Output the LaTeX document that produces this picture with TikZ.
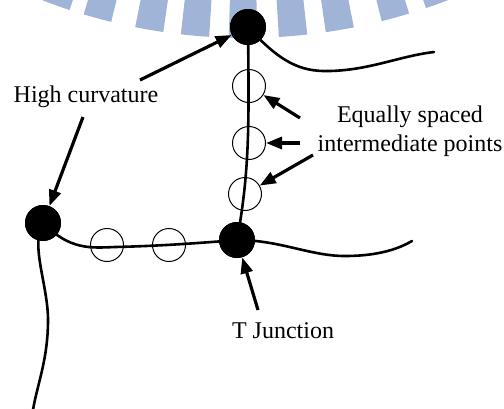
\documentclass[tikz,border=0pt]{standalone}
\usepackage{fontspec}
\setmainfont{Liberation Serif}
\usetikzlibrary{arrows.meta}
\definecolor{wmblue}{RGB}{160,180,216}
\tikzset{
  dot/.style={circle,fill=black,minimum size=36pt,inner sep=0pt},
  ring/.style={circle,draw=black,line width=1pt,minimum size=33pt,inner sep=0pt},
  curve/.style={line width=2.6pt,line cap=round},
  arr/.style={line width=3.2pt,-{Triangle[length=16pt,width=12pt]}},
  lbl/.style={font=\fontsize{24}{29}\selectfont,inner sep=0pt,align=center},
  wmbar/.style={fill=wmblue,draw=none}
}
\begin{document}
\begin{tikzpicture}[x=1pt,y=-1pt]
\useasboundingbox (0,0) rectangle (504,408);
% watermark bars (ring centre above the picture)
\begin{scope}
\clip (0,0) rectangle (504,408);
\begin{scope}[shift={(245,-525)}]
\foreach \a in {109.6,105.2,99.8,95.1,90.2,85.1,80.3,74.5,69.8}{
  \fill[wmbar] (\a-1.45:450) -- (\a-1.45:563) arc[start angle=\a-1.45,end angle=\a+1.45,radius=563] -- (\a+1.45:450) -- cycle;
}
\end{scope}
\end{scope}
% named points
\node[dot] (top) at (248,27) {};
\node[dot] (left) at (43,223) {};
\node[dot] (tj) at (237,240) {};
\node[ring] (c1) at (249,86) {};
\node[ring] (c2) at (249,143) {};
\node[ring] (c3) at (245,194) {};
\node[ring] (c4) at (107,245) {};
\node[ring] (c5) at (169,245) {};
\coordinate (e1) at (434,52);
\coordinate (e2) at (412,241);
\coordinate (e3) at (33,410);
% curves
\draw[curve] (top.center) .. controls (280,62) and (300,72) .. (330,71) .. controls (370,70) and (400,56) .. (e1);
\draw[curve] (top.center) .. controls (249,120) and (250,170) .. (tj.center);
\draw[curve] (left.center) .. controls (70,250) and (90,248) .. (115,247) .. controls (160,246) and (200,243) .. (tj.center);
\draw[curve] (tj.center) .. controls (280,240) and (310,256) .. (345,256) .. controls (380,256) and (400,248) .. (e2);
\draw[curve] (left.center) .. controls (30,245) and (48,285) .. (48,320) .. controls (48,360) and (37,385) .. (e3);
% dots on top
\node[dot] at (top) {};
\node[dot] at (left) {};
\node[dot] at (tj) {};
% labels
\node[lbl] (hc) at (86,97) {High curvature};
\node[lbl] (eq) at (410,131) {Equally spaced\\intermediate points};
\node[lbl] (tjl) at (283,331) {T Junction};
% arrow start points
\coordinate (h1) at (140,80);
\coordinate (h2) at (83,117);
\coordinate (q1) at (300,118);
\coordinate (q2) at (300,143);
\coordinate (q3) at (313,155);
\coordinate (t1) at (258,310);
% arrows
\draw[arr] (h1) -- (top);
\draw[arr] (h2) -- (left);
\draw[arr] (q1) -- (c1);
\draw[arr] (q2) -- (c2);
\draw[arr] (q3) -- (c3);
\draw[arr] (t1) -- (tj);
\end{tikzpicture}
\end{document}
